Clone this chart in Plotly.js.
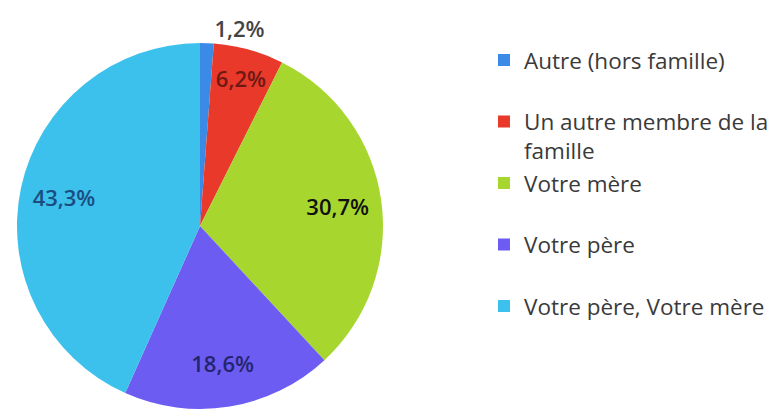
<!DOCTYPE html>
<html><head><meta charset="utf-8">
<script src="https://cdn.plot.ly/plotly-3.0.1.min.js"></script>
<style>html,body{margin:0;padding:0;background:#fff}#chart{width:781px;height:412px}</style>
</head><body><div id="chart"></div>
<script>
const legendNames = ["Autre (hors famille)<br>&nbsp;", "Un autre membre de la<br>famille", "Votre mère<br>&nbsp;", "Votre père<br>&nbsp;", "Votre père, Votre mère<br>&nbsp;"];
const values = [1.2, 6.2, 30.7, 18.6, 43.3];
const sliceColors = ["#3b8be6", "#e8392b", "#a7d62f", "#6c5cf2", "#3cc1ec"];
const legendMarkerColors = sliceColors;
const textColors = ["#444444", "#6e1a12", "#111111", "#25256e", "#1b4d80"];
const textPositions = ["outside", "inside", "inside", "inside", "inside"];

const pieDomain = {x: [17/781, 383/781], y: [1 - 409/412, 1 - 43/412]};
const labelFont = {family: "'Open Sans', sans-serif", size: 22, weight: 600, color: textColors};

// the filled pie (also provides the legend)
const pie = {
  type: "pie",
  labels: legendNames,
  values: values,
  sort: false,
  direction: "clockwise",
  rotation: 0,
  marker: {colors: legendMarkerColors, line: {width: 0}},
  textinfo: "none",
  automargin: false,
  domain: pieDomain
};

// transparent ring carrying the percentage labels further out, like the original
const labelRing = {
  type: "pie",
  labels: legendNames,
  values: values,
  sort: false,
  direction: "clockwise",
  rotation: 0,
  hole: 0.52,
  showlegend: false,
  marker: {colors: values.map(() => "rgba(0,0,0,0)"), line: {width: 0}},
  texttemplate: "%{value:.1f}%",
  textposition: textPositions,
  insidetextorientation: "horizontal",
  textfont: labelFont,
  insidetextfont: labelFont,
  outsidetextfont: labelFont,
  automargin: false,
  domain: pieDomain
};

const layout = {
  width: 781, height: 412,
  margin: {l: 0, r: 0, t: 0, b: 0},
  paper_bgcolor: "#ffffff",
  separators: ", ",
  showlegend: true,
  legend: {
    x: 0.6197, y: 0.9058, xanchor: "left", yanchor: "top",
    valign: "top",
    font: {family: "'Open Sans', sans-serif", size: 22.5, color: "#3a3a3a"},
    bgcolor: "rgba(0,0,0,0)"
  }
};
Plotly.newPlot("chart", [pie, labelRing], layout, {displayModeBar: false, staticPlot: true});
</script></body></html>
